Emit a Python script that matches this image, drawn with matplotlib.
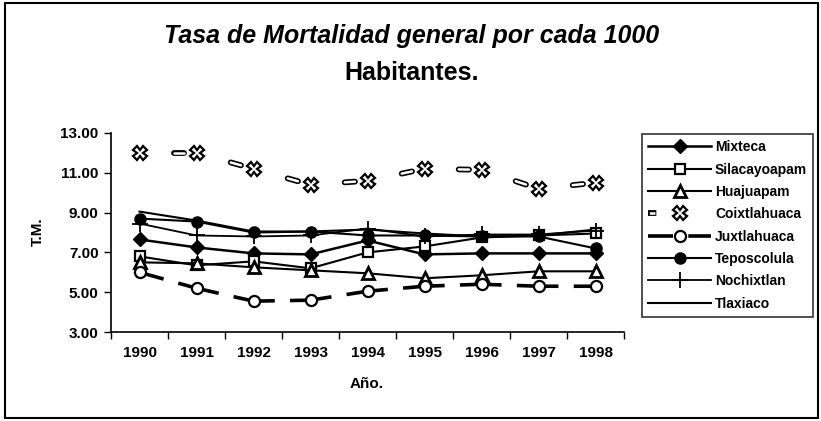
import matplotlib
matplotlib.use("Agg")
import matplotlib.pyplot as plt
from matplotlib.lines import Line2D
from matplotlib.patches import Rectangle
from matplotlib.legend_handler import HandlerTuple
import numpy as np

plt.rcParams['font.family'] = ['Liberation Sans', 'DejaVu Sans']
plt.rcParams['lines.scale_dashes'] = False

years = ['1990', '1991', '1992', '1993', '1994', '1995', '1996', '1997', '1998']
mixteca      = [7.65, 7.25, 6.95, 6.90, 7.60, 6.90, 6.95, 6.95, 6.95]
silacayoapam = [6.80, 6.35, 6.55, 6.20, 7.00, 7.30, 7.75, 7.85, 7.95]
huajuapam    = [6.50, 6.45, 6.25, 6.10, 5.95, 5.70, 5.85, 6.05, 6.05]
coixtlahuaca = [12.00, 12.00, 11.20, 10.40, 10.60, 11.20, 11.15, 10.20, 10.50]
juxtlahuaca  = [6.00, 5.20, 4.55, 4.60, 5.05, 5.30, 5.40, 5.30, 5.30]
teposcolula  = [8.70, 8.55, 8.00, 8.05, 7.85, 7.85, 7.80, 7.80, 7.20]
nochixtlan   = [8.45, 7.85, 7.80, 7.85, 8.20, 7.80, 7.90, 7.90, 8.10]
tlaxiaco     = [9.05, 8.60, 8.05, 8.05, 8.15, 7.95, 7.80, 7.85, 8.15]
yticks = [3, 5, 7, 9, 11, 13]

W, H = 821, 421
fig = plt.figure(figsize=(W / 100, H / 100), dpi=100)
ax = fig.add_axes([111 / W, 1 - 332 / H, (624 - 111) / W, (332 - 133) / H])

x = np.arange(len(years))
k = 'black'

h_mix, = ax.plot(x, mixteca, color=k, lw=1.8, marker='D', ms=7, mfc=k, mec=k, zorder=5)
h_sil, = ax.plot(x, silacayoapam, color=k, lw=1.5, marker='s', ms=7, mfc='white', mec=k, mew=1.6, zorder=5)
h_hua, = ax.plot(x, huajuapam, color=k, lw=1.5, marker='^', ms=8, mfc='white', mec=k, mew=2, zorder=5)
h_jux, = ax.plot(x, juxtlahuaca, color=k, lw=2.6, marker='o', ms=8, mfc='white', mec=k, mew=1.6,
                 linestyle=(12, (30, 11)), zorder=5)
h_tep, = ax.plot(x, teposcolula, color=k, lw=1.5, marker='o', ms=8, mfc=k, mec=k, zorder=5)
h_noc, = ax.plot(x, nochixtlan, color=k, lw=1.3, marker='+', ms=11, mew=1.3, zorder=5)
h_tla, = ax.plot(x, tlaxiaco, color=k, lw=1.5, zorder=4)

# Coixtlahuaca: hollow short dash before each point, open X marker
cx = x.astype(float)
cy = np.array(coixtlahuaca)
for i in range(len(cx) - 1):
    t0, t1 = 0.60, 0.78
    xs = [cx[i] + t0 * (cx[i + 1] - cx[i]), cx[i] + t1 * (cx[i + 1] - cx[i])]
    ys = [cy[i] + t0 * (cy[i + 1] - cy[i]), cy[i] + t1 * (cy[i + 1] - cy[i])]
    ax.plot(xs, ys, color=k, lw=4.2, solid_capstyle='round', zorder=5)
    ax.plot(xs, ys, color='white', lw=1.8, solid_capstyle='round', zorder=6)
h_coi, = ax.plot(cx, cy, ls='none', marker='X', ms=10, mfc='white', mec=k, mew=1.6, zorder=6)

ax.set_xlim(-0.5, len(years) - 0.5)
ax.set_ylim(3, 13)
ax.set_yticks(yticks)
ax.set_yticklabels([f'{v:.2f}' for v in yticks])
ax.set_xticks(x)
ax.set_xticklabels(years)
ax.set_xticks(np.arange(len(years) + 1) - 0.5, minor=True)
ax.tick_params(axis='x', which='major', length=0, pad=10)
ax.tick_params(axis='x', which='minor', length=5, width=1, direction='out')
ax.tick_params(axis='y', length=5, width=1, direction='out', pad=4)
for lab in ax.get_xticklabels() + ax.get_yticklabels():
    lab.set_fontsize(11)
    lab.set_fontweight('bold')
for s in ['top', 'right']:
    ax.spines[s].set_visible(False)
for s in ['left', 'bottom']:
    ax.spines[s].set_linewidth(1.2)
    ax.spines[s].set_color(k)

fig.text(367 / W, 1 - 384 / H, 'Año.', ha='center', va='center', fontsize=11, fontweight='bold')
fig.text(38 / W, 1 - 232 / H, 'T.M.', ha='center', va='center', rotation=90, fontsize=11, fontweight='bold')

fig.text(412 / W, 1 - 36 / H, 'Tasa de Mortalidad general por cada 1000', ha='center', va='center',
         fontsize=18, fontweight='bold', fontstyle='italic')
fig.text(412 / W, 1 - 73 / H, 'Habitantes.', ha='center', va='center', fontsize=18, fontweight='bold')

# legend
coi_a = Line2D([], [], color=k, lw=4.2, linestyle=(0, (6, 40)), solid_capstyle='round')
coi_b = Line2D([], [], color='white', lw=1.8, linestyle=(-1, (4, 42)))
coi_c = Line2D([], [], ls='none', marker='X', ms=10, mfc='white', mec=k, mew=1.6)
handles = [h_mix, h_sil, h_hua, (coi_a, coi_b, coi_c), h_jux, h_tep, h_noc, h_tla]
labels = ['Mixteca', 'Silacayoapam', 'Huajuapam', 'Coixtlahuaca', 'Juxtlahuaca',
          'Teposcolula', 'Nochixtlan', 'Tlaxiaco']
leg = fig.legend(handles, labels, loc='upper left', bbox_to_anchor=(642 / W, 1 - 134 / H),
                 borderaxespad=0, frameon=True, fancybox=False, edgecolor=k,
                 prop={'size': 10, 'weight': 'bold'}, handlelength=4.5, handletextpad=0.3,
                 labelspacing=0.6, borderpad=0.45,
                 handler_map={tuple: HandlerTuple(ndivide=1)})
leg.get_frame().set_linewidth(1.2)

fig.patches.append(Rectangle((5 / W, 3 / H), (818 - 5) / W, (418 - 3) / H, transform=fig.transFigure,
                             fill=False, edgecolor=k, lw=1.5))

fig.savefig('out.png', dpi=100)
